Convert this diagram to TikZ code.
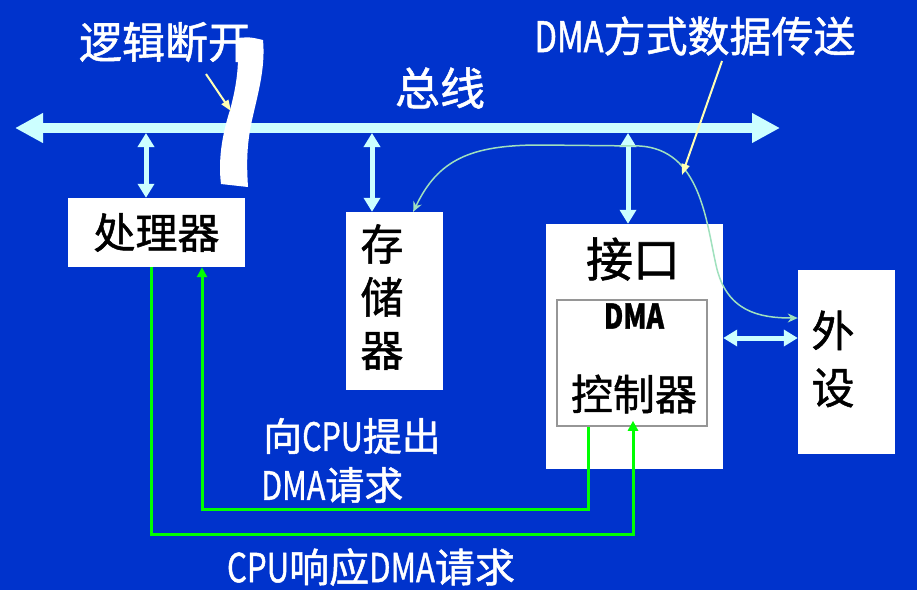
\documentclass[tikz,border=0pt]{standalone}
\usepackage{fontspec}
\usepackage{graphicx}
\setmainfont{Noto Sans CJK SC}[FakeBold=1.2]
\usetikzlibrary{arrows.meta}

\definecolor{bg}{RGB}{0,51,204}
\definecolor{buscol}{RGB}{204,255,255}
\definecolor{flowcol}{RGB}{160,225,190}
\definecolor{notecol}{RGB}{255,255,180}
\definecolor{sig}{RGB}{0,255,0}
\definecolor{framegray}{RGB}{150,150,150}

% condensed Latin letters inside Chinese labels
\newcommand\lat[1]{\scalebox{0.78}[1]{#1}}
\newcommand\labelsize{\fontsize{42}{46}\selectfont}

\tikzset{
  unit/.style={fill=white, draw=none, inner sep=0pt, text=black},
  caption/.style={text=white, inner sep=0pt, font=\labelsize},
  busline/.style={buscol, line width=10pt, {Triangle[width=28pt,length=28pt]}-{Triangle[width=28pt,length=28pt]}},
  link/.style={buscol, line width=5pt, {Triangle[width=16pt,length=14pt]}-{Triangle[width=16pt,length=14pt]}},
  pointer/.style={notecol, line width=2pt, -{Triangle[width=8pt,length=11pt]}},
  flow/.style={flowcol, line width=1.5pt, {Stealth[width=9pt,length=10pt]}-{Stealth[width=9pt,length=10pt]}},
  signal/.style={sig, line width=3pt, -{Triangle[width=10pt,length=10pt]}},
}

\begin{document}
\begin{tikzpicture}[x=1pt,y=-1pt]
  \fill[bg] (0,0) rectangle (917,590);
  \useasboundingbox (0,0) rectangle (917,590);

  % system bus
  \coordinate (busL) at (15,128);
  \coordinate (busR) at (780,128);
  \draw[busline] (busL) -- (busR);
  \node[caption, font=\fontsize{45}{49}\selectfont] (busname) at (440,88) {总线};

  % units
  \node[unit, minimum width=177pt, minimum height=69pt] (proc) at (156.5,232.5) {\labelsize 处理器};
  \node[unit, minimum width=97pt, minimum height=178pt] (mem) at (394.5,301) {};
  \node[inner sep=0pt, align=center, font=\fontsize{43}{53}\selectfont] (memtxt) at (382,297) {存\\储\\器};
  \node[unit, minimum width=177pt, minimum height=245pt] (iface) at (634.5,346.5) {};
  \node[inner sep=0pt, font=\fontsize{47}{50}\selectfont] (ifacetxt) at (633,259) {接口};
  \node[fill=white, draw=framegray, line width=1.5pt, minimum width=150pt, minimum height=126pt, inner sep=0pt] (ctrl) at (632,363) {};
  \node[inner sep=0pt, font=\fontsize{34}{38}\selectfont\bfseries] (dmatxt) at (634,316) {\lat{DMA}};
  \node[inner sep=0pt, font=\labelsize] (ctrltxt) at (634,394) {控制器};
  \node[unit, minimum width=97pt, minimum height=184pt] (periph) at (846.5,362) {};
  \node[inner sep=0pt, align=center, font=\fontsize{43}{57}\selectfont] (periphtxt) at (833,359) {外\\设};

  % bus taps
  \coordinate (tapP) at (146,133);
  \coordinate (tapM) at (372,133);
  \coordinate (tapI) at (628,133);
  \draw[link] (tapP) -- (tapP |- proc.north);
  \draw[link] (tapM) -- (tapM |- mem.north);
  \draw[link] (tapI) -- (tapI |- iface.north);
  \coordinate (devlink) at (0,338);
  \draw[link] (iface.east |- devlink) -- (periph.west |- devlink);

  % logical break of the bus
  \fill[white] (237,38) .. controls (250,37) .. (263,40)
    .. controls (266,70) and (256,100) .. (251,125)
    .. controls (246,150) and (247,170) .. (248,187)
    -- (221,184)
    .. controls (218,160) and (222,135) .. (230,110)
    .. controls (236,88) and (240,65) .. cycle;
  \node[caption, font=\fontsize{43}{47}\selectfont] (breaktxt) at (165,42) {逻辑断开};
  \coordinate (breakfrom) at (206,74);
  \coordinate (breakto) at (231,111);
  \draw[pointer] (breakfrom) -- (breakto);

  % DMA data path between memory and peripheral
  \coordinate (devin) at (0,318);
  \draw[flow] ([xshift=-30pt]mem.north east)
      .. controls (438,160) and (470,145) .. (540,145)
      -- (640,146)
      .. controls (700,150) and (706,220) .. (716,265)
      .. controls (726,312) and (760,318) .. (periph.west |- devin);
  \node[caption] (dmaname) at (695,36) {\lat{DMA}方式数据传送};
  \coordinate (dmafrom) at (722,61);
  \coordinate (dmato) at (682,175);
  \draw[pointer] (dmafrom) -- (dmato);

  % request / acknowledge handshake
  \coordinate (reqA) at (588,509);
  \coordinate (reqB) at (202,509);
  \draw[signal] (ctrl.south -| reqA) -- (reqA) -- (reqB) -- (proc.south -| reqB);
  \coordinate (ackA) at (151,534);
  \coordinate (ackB) at (633,534);
  \draw[signal] (proc.south -| ackA) -- (ackA) -- (ackB) -- ([yshift=6pt]ctrl.south -| ackB);

  \node[caption, font=\fontsize{39}{43}\selectfont, anchor=west] (reqtxt1) at (263,436) {向\lat{CPU}提出};
  \node[caption, font=\fontsize{39}{43}\selectfont, anchor=west] (reqtxt2) at (261,485) {\lat{DMA}请求};
  \node[caption, font=\fontsize{40}{44}\selectfont] (acktxt) at (371,567) {\lat{CPU}响应\lat{DMA}请求};
\end{tikzpicture}
\end{document}
